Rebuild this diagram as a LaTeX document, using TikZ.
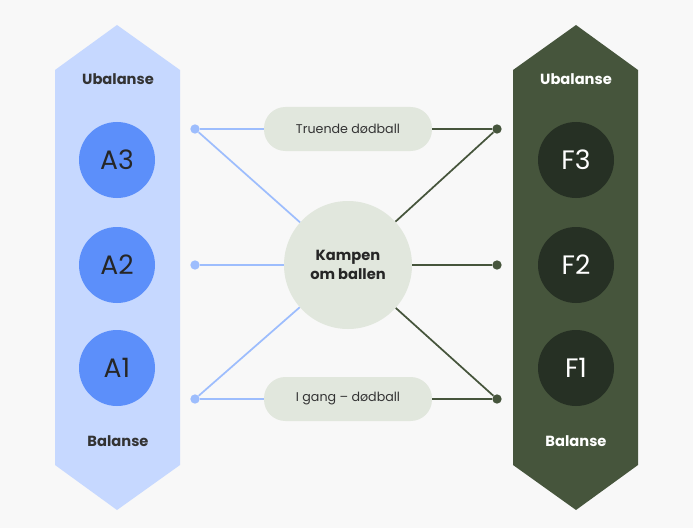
\documentclass[tikz,border=0pt]{standalone}
\usepackage{fontspec}
\setmainfont{Poppins}
\begin{document}
\begin{tikzpicture}[x=0.75pt,y=-0.75pt,
  big/.style={circle,minimum size=57pt,inner sep=0pt,font=\fontsize{20}{22}\selectfont},
  acirc/.style={big,fill=bluec,text=black!85},
  fcirc/.style={big,fill=greenc,text=white},
  pill/.style={rounded corners=16pt,fill=paleg,minimum width=126pt,minimum height=33pt,font=\fontsize{9.5}{11}\selectfont,text=black!80},
  dot/.style={circle,inner sep=0pt,minimum size=7pt},
  ldot/.style={dot,fill=lblue},
  rdot/.style={dot,fill=dgreen},
  lab/.style={font=\fontsize{11}{13}\selectfont\bfseries},
  lline/.style={lblue,line width=1.3pt},
  rline/.style={dgreen,line width=1.3pt}]
\definecolor{bg}{HTML}{F8F8F8}
\definecolor{lpanel}{HTML}{C6D8FF}
\definecolor{bluec}{HTML}{5C8FFA}
\definecolor{rpanel}{HTML}{46553C}
\definecolor{greenc}{HTML}{263024}
\definecolor{paleg}{HTML}{E1E7DD}
\definecolor{lblue}{HTML}{9DBDFD}
\definecolor{dgreen}{HTML}{46553C}
\fill[bg] (0,0) rectangle (693,528);
\useasboundingbox (0,0) rectangle (693,528);
\fill[lpanel] (117,25) -- (180,70) -- (180,465) -- (117,510) -- (55,465) -- (55,70) -- cycle;
\fill[rpanel] (576,25) -- (638,70) -- (638,465) -- (576,510) -- (513,465) -- (513,70) -- cycle;
\node[lab,text=black!80] (ul) at (118,79) {Ubalanse};
\node[lab,text=black!80] (bl) at (118,441) {Balanse};
\node[lab,text=white] (ur) at (576,79) {Ubalanse};
\node[lab,text=white] (br) at (576,441) {Balanse};
\node[acirc] (a3) at (117,160) {A3};
\node[acirc] (a2) at (117,265) {A2};
\node[acirc] (a1) at (117,368) {A1};
\node[fcirc] (f3) at (576,160) {F3};
\node[fcirc] (f2) at (576,265) {F2};
\node[fcirc] (f1) at (576,368) {F1};
\node[pill] (p1) at (348,129) {Truende dødball};
\node[pill] (p2) at (348,399) {I gang – dødball};
\node[circle,fill=paleg,minimum size=96pt,inner sep=0pt,align=center,font=\fontsize{11}{14}\selectfont\bfseries,text=black!85] (c) at (348,265) {Kampen\\om ballen};
\node[ldot] (l1) at (195,129) {};
\node[ldot] (l2) at (195,265) {};
\node[ldot] (l3) at (195,399) {};
\node[rdot] (r1) at (497,129) {};
\node[rdot] (r2) at (497,265) {};
\node[rdot] (r3) at (497,399) {};
\begin{scope}[on background layer/.style={}]
\draw[lline] (l1) -- (p1.west);
\draw[lline] (l3) -- (p2.west);
\draw[lline] (l1) -- (c);
\draw[lline] (l2) -- (c);
\draw[lline] (l3) -- (c);
\draw[rline] (p1.east) -- (r1);
\draw[rline] (p2.east) -- (r3);
\draw[rline] (c) -- (r1);
\draw[rline] (c) -- (r2);
\draw[rline] (c) -- (r3);
\end{scope}
\end{tikzpicture}
\end{document}
